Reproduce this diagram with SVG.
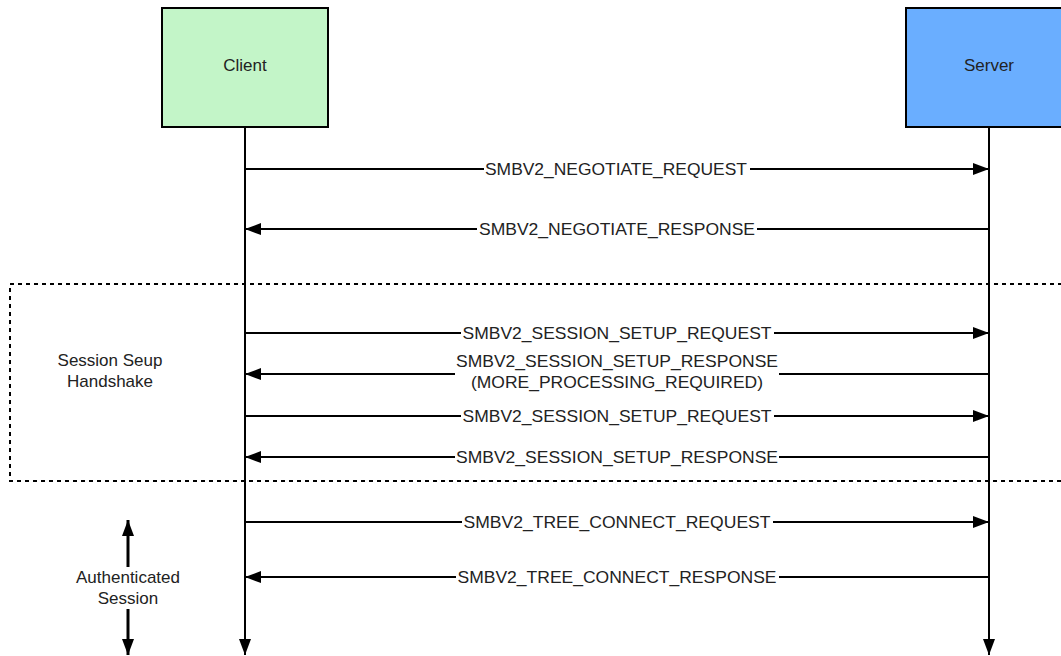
<svg xmlns="http://www.w3.org/2000/svg" width="1061" height="656" viewBox="0 0 1061 656">
<style>
text{font-family:"Liberation Sans",Arial,sans-serif;font-size:17px;fill:#222;text-anchor:middle}
.ln{stroke:#000;stroke-width:2;fill:none}
.lb{fill:#fff}
</style>
<defs>
<marker id="ah" viewBox="0 0 16 12" refX="16" refY="6" markerWidth="16" markerHeight="12" markerUnits="userSpaceOnUse" orient="auto">
<path d="M0,0 L16,6 L0,12 Z" fill="#000"/>
</marker>
</defs>
<rect width="1061" height="656" fill="#fff"/>
<g id="session-frame">
<path d="M1070,284 H10 V481 H1070" fill="none" stroke="#000" stroke-width="2" stroke-dasharray="4,4"/>
<text x="110" y="366">Session Seup</text>
<text x="110" y="387">Handshake</text>
</g>
<g id="client">
<rect x="162" y="8" width="166" height="119" fill="#c3f5c8" stroke="#000" stroke-width="2"/>
<text x="245" y="71">Client</text>
</g>
<g id="server">
<rect x="906" y="8" width="166" height="119" fill="#6aaeff" stroke="#000" stroke-width="2"/>
<text x="989" y="71">Server</text>
</g>
<g id="connectors">
<line class="ln" x1="245" y1="127" x2="245" y2="655" marker-end="url(#ah)"/>
<line class="ln" x1="989" y1="127" x2="989" y2="655" marker-end="url(#ah)"/>
<line class="ln" x1="245" y1="169" x2="989" y2="169" marker-end="url(#ah)"/>
<line class="ln" x1="989" y1="229" x2="245" y2="229" marker-end="url(#ah)"/>
<line class="ln" x1="245" y1="333" x2="989" y2="333" marker-end="url(#ah)"/>
<line class="ln" x1="989" y1="374" x2="245" y2="374" marker-end="url(#ah)"/>
<line class="ln" x1="245" y1="416" x2="989" y2="416" marker-end="url(#ah)"/>
<line class="ln" x1="989" y1="457" x2="245" y2="457" marker-end="url(#ah)"/>
<line class="ln" x1="245" y1="522" x2="989" y2="522" marker-end="url(#ah)"/>
<line class="ln" x1="989" y1="577" x2="245" y2="577" marker-end="url(#ah)"/>
<line class="ln" style="stroke-width:3" x1="128" y1="567" x2="128" y2="520" marker-end="url(#ah)"/>
<line class="ln" style="stroke-width:3" x1="128" y1="609" x2="128" y2="655" marker-end="url(#ah)"/>
<rect class="lb" x="484" y="160" width="266" height="18"/>
<text x="616" y="175" textLength="262" lengthAdjust="spacingAndGlyphs">SMBV2_NEGOTIATE_REQUEST</text>
<rect class="lb" x="477" y="220" width="280" height="18"/>
<text x="617" y="235" textLength="276" lengthAdjust="spacingAndGlyphs">SMBV2_NEGOTIATE_RESPONSE</text>
<rect class="lb" x="461" y="324" width="313" height="18"/>
<text x="617" y="339" textLength="309" lengthAdjust="spacingAndGlyphs">SMBV2_SESSION_SETUP_REQUEST</text>
<rect class="lb" x="455" y="352" width="324" height="40"/>
<text x="617" y="367" textLength="322" lengthAdjust="spacingAndGlyphs">SMBV2_SESSION_SETUP_RESPONSE</text>
<text x="617" y="388" textLength="292" lengthAdjust="spacingAndGlyphs">(MORE_PROCESSING_REQUIRED)</text>
<rect class="lb" x="461" y="407" width="313" height="18"/>
<text x="617" y="422" textLength="309" lengthAdjust="spacingAndGlyphs">SMBV2_SESSION_SETUP_REQUEST</text>
<rect class="lb" x="455" y="448" width="324" height="18"/>
<text x="617" y="463" textLength="322" lengthAdjust="spacingAndGlyphs">SMBV2_SESSION_SETUP_RESPONSE</text>
<rect class="lb" x="462" y="513" width="311" height="18"/>
<text x="617" y="528" textLength="307" lengthAdjust="spacingAndGlyphs">SMBV2_TREE_CONNECT_REQUEST</text>
<rect class="lb" x="456" y="568" width="323" height="18"/>
<text x="617" y="583" textLength="319" lengthAdjust="spacingAndGlyphs">SMBV2_TREE_CONNECT_RESPONSE</text>
</g>
<g id="auth-label">
<text x="128" y="583">Authenticated</text>
<text x="128" y="604">Session</text>
</g>
</svg>
